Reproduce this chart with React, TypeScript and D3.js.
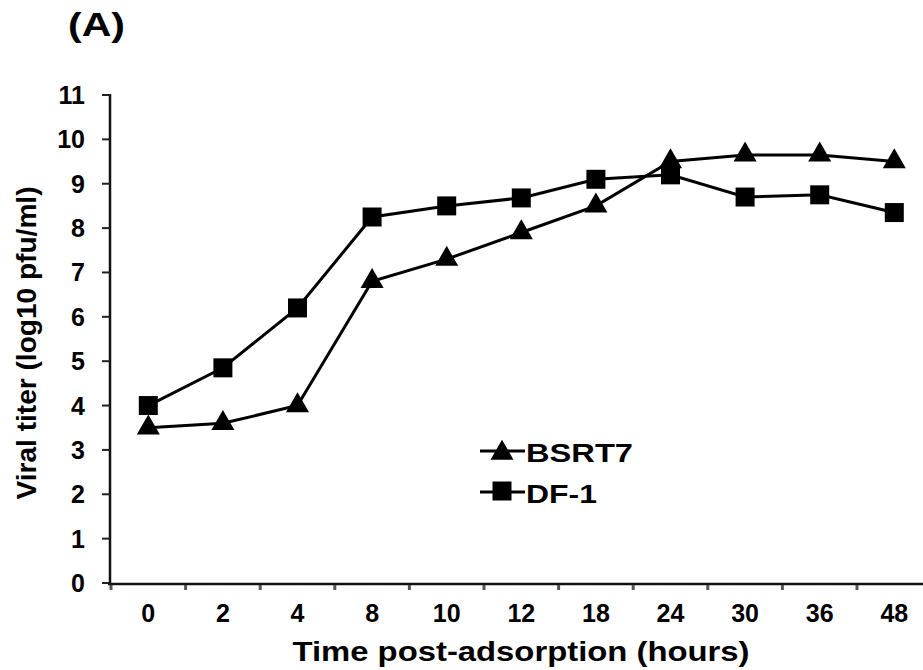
import React from 'react';
import * as d3 from 'd3';

const hours = ['0', '2', '4', '8', '10', '12', '18', '24', '30', '36', '48'];
const bsrt7 = [3.5, 3.6, 4.0, 6.8, 7.3, 7.9, 8.5, 9.5, 9.65, 9.65, 9.5];
const df1 = [4.0, 4.85, 6.2, 8.25, 8.5, 8.68, 9.1, 9.2, 8.7, 8.75, 8.35];
const yTicks = [0, 1, 2, 3, 4, 5, 6, 7, 8, 9, 10, 11];

const W = 923;
const H = 670;
const font = "'Liberation Sans', Arial, sans-serif";

const App = () => {
  const x = d3.scaleBand<string>().domain(hours).range([111, 111 + 74.6 * hours.length]);
  const y = d3.scaleLinear().domain([0, 11]).range([583, 95]);
  const cx = (h: string) => (x(h) as number) + x.bandwidth() / 2;

  const line = d3.line<number>()
    .x((_, i) => cx(hours[i]))
    .y((v) => y(v));

  const tri = d3.symbol().type(d3.symbolTriangle).size(230)();
  const sq = d3.symbol().type(d3.symbolSquare).size(361)();

  return (
    <svg width={W} height={H} style={{ position: 'absolute', left: 0, top: 0 }} fontFamily={font}>
      <rect width={W} height={H} fill="#fff" />
      <text x={68} y={36} fontSize={34} fontWeight="bold" textLength={57} lengthAdjust="spacingAndGlyphs">(A)</text>

      {/* y axis */}
      <line x1={110} x2={110} y1={94} y2={585} stroke="#111" strokeWidth={2.5} />
      {yTicks.map((t) => (
        <g key={t}>
          <line x1={102} x2={110} y1={y(t)} y2={y(t)} stroke="#222" strokeWidth={2} />
          <text x={85} y={y(t)} dy="0.36em" textAnchor="end" fontSize={25} fontWeight="bold">{t}</text>
        </g>
      ))}
      <text
        transform="translate(36,343) rotate(-90)"
        textAnchor="middle"
        fontSize={28}
        fontWeight="bold"
        textLength={313}
        lengthAdjust="spacingAndGlyphs"
      >
        Viral titer (log10 pfu/ml)
      </text>

      {/* x axis */}
      <line x1={108} x2={W} y1={584} y2={584} stroke="#111" strokeWidth={2.5} />
      {hours.map((h) => (
        <g key={h}>
          <line x1={x(h)} x2={x(h)} y1={585} y2={590} stroke="#555" strokeWidth={3} />
          <text x={cx(h)} y={622} textAnchor="middle" fontSize={25} fontWeight="bold">{h}</text>
        </g>
      ))}
      <text x={521} y={661} textAnchor="middle" fontSize={28} fontWeight="bold" textLength={457} lengthAdjust="spacingAndGlyphs">
        Time post-adsorption (hours)
      </text>

      {/* series */}
      <path d={line(bsrt7) as string} fill="none" stroke="#000" strokeWidth={3} />
      <path d={line(df1) as string} fill="none" stroke="#000" strokeWidth={3} />
      {df1.map((v, i) => (
        <path key={'d' + i} d={sq as string} transform={`translate(${cx(hours[i])},${y(v)})`} fill="#000" />
      ))}
      {bsrt7.map((v, i) => (
        <path key={'b' + i} d={tri as string} transform={`translate(${cx(hours[i])},${y(v)})`} fill="#000" />
      ))}

      {/* legend */}
      <line x1={480} x2={525} y1={451} y2={451} stroke="#000" strokeWidth={3} />
      <path d={tri as string} transform="translate(502,453)" fill="#000" />
      <text x={526} y={462} fontSize={26} fontWeight="bold" textLength={107} lengthAdjust="spacingAndGlyphs">BSRT7</text>
      <line x1={480} x2={525} y1={492} y2={492} stroke="#000" strokeWidth={3} />
      <path d={sq as string} transform="translate(502,491)" fill="#000" />
      <text x={526} y={503} fontSize={26} fontWeight="bold" textLength={71} lengthAdjust="spacingAndGlyphs">DF-1</text>
    </svg>
  );
};

export default App;
